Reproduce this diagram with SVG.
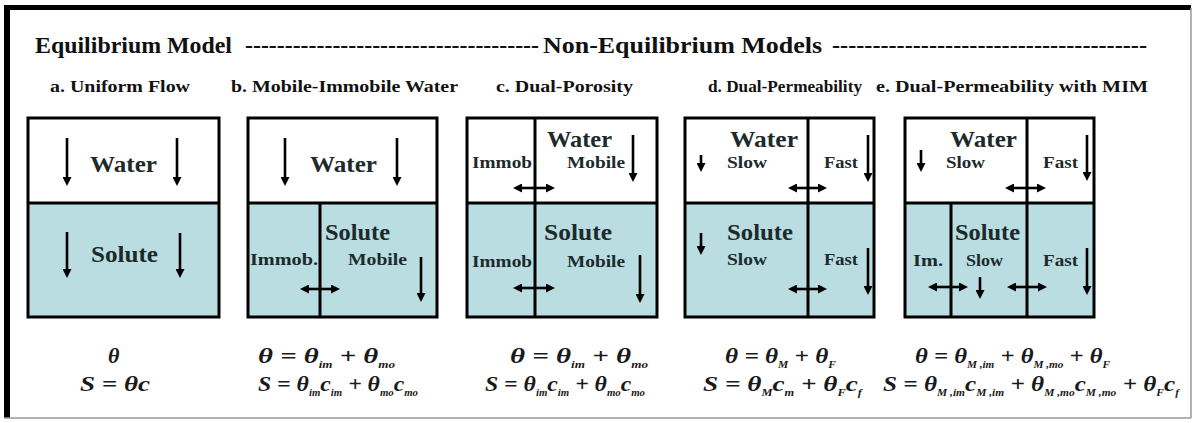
<svg xmlns="http://www.w3.org/2000/svg" width="1196" height="423" viewBox="0 0 1196 423">
<style>
.bg{fill:#ffffff}
.frameb{fill:#000}
.frameg{stroke:#9a9a9a;stroke-width:1.5;fill:none}
.box{fill:none;stroke:#000;stroke-width:3}
.blue{fill:#b9dde1}
.div{stroke:#000;stroke-width:3}
text{font-family:'Liberation Serif','Times New Roman',serif;font-weight:bold}
.hd{font-size:24px;fill:#111}
.sub{font-size:17px;fill:#111}
.big{font-size:24px;fill:#1c2a2c}
.sm{font-size:16px;fill:#1c2a2c}
.eq{font-style:italic;font-size:22px;fill:#1a1a1a}
.s{font-size:10px}
.ar{stroke:#000;stroke-width:2.6;fill:none;marker-end:url(#ah)}
.da{stroke:#000;stroke-width:2.6;fill:none;marker-end:url(#ah);marker-start:url(#ah)}
</style>
<defs>
<marker id="ah" markerUnits="userSpaceOnUse" viewBox="0 0 9 9" markerWidth="9" markerHeight="9" refX="1" refY="4.5" orient="auto-start-reverse">
<path d="M0,0 L9,4.5 L0,9 z" fill="#000"/>
</marker>
</defs>
<rect class="bg" x="0" y="0" width="1196" height="423"/>
<g id="frame">
<rect class="frameb" x="4" y="5" width="1187" height="5"/>
<rect class="frameb" x="4" y="5" width="6" height="413"/>
<line class="frameg" x1="1191" y1="8" x2="1191" y2="418"/>
<line class="frameg" x1="4" y1="418" x2="1191" y2="418"/>
</g>
<g id="header">
<text class="hd" x="35" y="53" textLength="197" lengthAdjust="spacingAndGlyphs">Equilibrium Model</text>
<text class="hd" x="245" y="53" textLength="294" lengthAdjust="spacingAndGlyphs">-------------------------------------</text>
<text class="hd" x="543" y="53" textLength="279" lengthAdjust="spacingAndGlyphs">Non-Equilibrium Models</text>
<text class="hd" x="832" y="53" textLength="315" lengthAdjust="spacingAndGlyphs">---------------------------------------</text>
</g>
<g id="subtitles">
<text class="sub" x="50" y="92" textLength="140" lengthAdjust="spacingAndGlyphs">a. Uniform Flow</text>
<text class="sub" x="231" y="92" textLength="227" lengthAdjust="spacingAndGlyphs">b. Mobile-Immobile Water</text>
<text class="sub" x="496" y="92" textLength="137" lengthAdjust="spacingAndGlyphs">c. Dual-Porosity</text>
<text class="sub" x="708" y="92" textLength="154" lengthAdjust="spacingAndGlyphs">d. Dual-Permeability</text>
<text class="sub" x="876" y="92" textLength="272" lengthAdjust="spacingAndGlyphs">e. Dual-Permeability with MIM</text>
</g>
<g id="panel-a">
<rect class="blue" x="28" y="203" width="191" height="114"/>
<rect class="box" x="28" y="118" width="191" height="199"/>
<line class="div" x1="28" y1="203" x2="219" y2="203"/>
<text class="big" x="90" y="172" textLength="67" lengthAdjust="spacingAndGlyphs">Water</text>
<text class="big" x="91" y="262" textLength="67" lengthAdjust="spacingAndGlyphs">Solute</text>
<text class="eq" x="108" y="363">θ</text>
<text class="eq" x="80" y="391" textLength="70" lengthAdjust="spacingAndGlyphs">S = θc</text>
</g>
<g id="panel-b">
<rect class="blue" x="248" y="203" width="189" height="114"/>
<rect class="box" x="248" y="118" width="189" height="199"/>
<line class="div" x1="248" y1="203" x2="437" y2="203"/>
<line class="div" x1="320" y1="203" x2="320" y2="317"/>
<text class="big" x="310" y="172" textLength="67" lengthAdjust="spacingAndGlyphs">Water</text>
<text class="big" x="325" y="240" textLength="65" lengthAdjust="spacingAndGlyphs">Solute</text>
<text class="sm" x="250" y="265" textLength="68" lengthAdjust="spacingAndGlyphs">Immob.</text>
<text class="sm" x="348" y="265" textLength="59" lengthAdjust="spacingAndGlyphs">Mobile</text>
<text class="eq" x="258" y="363" textLength="137" lengthAdjust="spacingAndGlyphs">θ = θ<tspan class="s" dy="5">im</tspan><tspan dy="-5"> + θ</tspan><tspan class="s" dy="5">mo</tspan></text>
<text class="eq" x="258" y="391" textLength="160" lengthAdjust="spacingAndGlyphs">S = θ<tspan class="s" dy="5">im</tspan><tspan dy="-5">c</tspan><tspan class="s" dy="5">im</tspan><tspan dy="-5"> + θ</tspan><tspan class="s" dy="5">mo</tspan><tspan dy="-5">c</tspan><tspan class="s" dy="5">mo</tspan></text>
</g>
<g id="panel-c">
<rect class="blue" x="467" y="203" width="190" height="114"/>
<rect class="box" x="467" y="118" width="190" height="199"/>
<line class="div" x1="467" y1="203" x2="657" y2="203"/>
<line class="div" x1="535" y1="118" x2="535" y2="317"/>
<text class="big" x="547" y="147" textLength="65" lengthAdjust="spacingAndGlyphs">Water</text>
<text class="sm" x="472" y="168" textLength="60" lengthAdjust="spacingAndGlyphs">Immob</text>
<text class="sm" x="567" y="168" textLength="58" lengthAdjust="spacingAndGlyphs">Mobile</text>
<text class="big" x="544" y="240" textLength="68" lengthAdjust="spacingAndGlyphs">Solute</text>
<text class="sm" x="472" y="267" textLength="60" lengthAdjust="spacingAndGlyphs">Immob</text>
<text class="sm" x="567" y="267" textLength="58" lengthAdjust="spacingAndGlyphs">Mobile</text>
<text class="eq" x="510" y="363" textLength="138" lengthAdjust="spacingAndGlyphs">θ = θ<tspan class="s" dy="5">im</tspan><tspan dy="-5"> + θ</tspan><tspan class="s" dy="5">mo</tspan></text>
<text class="eq" x="485" y="391" textLength="160" lengthAdjust="spacingAndGlyphs">S = θ<tspan class="s" dy="5">im</tspan><tspan dy="-5">c</tspan><tspan class="s" dy="5">im</tspan><tspan dy="-5"> + θ</tspan><tspan class="s" dy="5">mo</tspan><tspan dy="-5">c</tspan><tspan class="s" dy="5">mo</tspan></text>
</g>
<g id="panel-d">
<rect class="blue" x="685" y="203" width="189" height="114"/>
<rect class="box" x="685" y="118" width="189" height="199"/>
<line class="div" x1="685" y1="203" x2="874" y2="203"/>
<line class="div" x1="808" y1="118" x2="808" y2="317"/>
<text class="big" x="730" y="147" textLength="68" lengthAdjust="spacingAndGlyphs">Water</text>
<text class="sm" x="727" y="168" textLength="40" lengthAdjust="spacingAndGlyphs">Slow</text>
<text class="sm" x="824" y="168" textLength="34" lengthAdjust="spacingAndGlyphs">Fast</text>
<text class="big" x="727" y="240" textLength="66" lengthAdjust="spacingAndGlyphs">Solute</text>
<text class="sm" x="727" y="265" textLength="40" lengthAdjust="spacingAndGlyphs">Slow</text>
<text class="sm" x="824" y="265" textLength="34" lengthAdjust="spacingAndGlyphs">Fast</text>
<text class="eq" x="725" y="363" textLength="111" lengthAdjust="spacingAndGlyphs">θ = θ<tspan class="s" dy="5">M</tspan><tspan dy="-5"> + θ</tspan><tspan class="s" dy="5">F</tspan></text>
<text class="eq" x="703" y="391" textLength="159" lengthAdjust="spacingAndGlyphs">S = θ<tspan class="s" dy="5">M</tspan><tspan dy="-5">c</tspan><tspan class="s" dy="5">m</tspan><tspan dy="-5"> + θ</tspan><tspan class="s" dy="5">F</tspan><tspan dy="-5">c</tspan><tspan class="s" dy="5">f</tspan></text>
</g>
<g id="panel-e">
<rect class="blue" x="905" y="203" width="189" height="114"/>
<rect class="box" x="905" y="118" width="189" height="199"/>
<line class="div" x1="905" y1="203" x2="1094" y2="203"/>
<line class="div" x1="1027" y1="118" x2="1027" y2="317"/>
<line class="div" x1="951" y1="203" x2="951" y2="317"/>
<text class="big" x="950" y="147" textLength="67" lengthAdjust="spacingAndGlyphs">Water</text>
<text class="sm" x="946" y="168" textLength="39" lengthAdjust="spacingAndGlyphs">Slow</text>
<text class="sm" x="1043" y="168" textLength="35" lengthAdjust="spacingAndGlyphs">Fast</text>
<text class="big" x="955" y="240" textLength="65" lengthAdjust="spacingAndGlyphs">Solute</text>
<text class="sm" x="913" y="266" textLength="30" lengthAdjust="spacingAndGlyphs">Im.</text>
<text class="sm" x="966" y="266" textLength="37" lengthAdjust="spacingAndGlyphs">Slow</text>
<text class="sm" x="1043" y="266" textLength="35" lengthAdjust="spacingAndGlyphs">Fast</text>
<text class="eq" x="915" y="363" textLength="195" lengthAdjust="spacingAndGlyphs">θ = θ<tspan class="s" dy="5">M ,im</tspan><tspan dy="-5"> + θ</tspan><tspan class="s" dy="5">M ,mo</tspan><tspan dy="-5"> + θ</tspan><tspan class="s" dy="5">F</tspan></text>
<text class="eq" x="883" y="391" textLength="296" lengthAdjust="spacingAndGlyphs">S = θ<tspan class="s" dy="5">M ,im</tspan><tspan dy="-5">c</tspan><tspan class="s" dy="5">M ,im</tspan><tspan dy="-5"> + θ</tspan><tspan class="s" dy="5">M ,mo</tspan><tspan dy="-5">c</tspan><tspan class="s" dy="5">M ,mo</tspan><tspan dy="-5"> + θ</tspan><tspan class="s" dy="5">F</tspan><tspan dy="-5">c</tspan><tspan class="s" dy="5">f</tspan></text>
</g>
<g id="connectors">
<line class="ar" x1="67" y1="138" x2="67" y2="178"/>
<line class="ar" x1="177" y1="138" x2="177" y2="178"/>
<line class="ar" x1="67" y1="232" x2="67" y2="270"/>
<line class="ar" x1="180" y1="233" x2="180" y2="270"/>
<line class="ar" x1="285" y1="138" x2="285" y2="178"/>
<line class="ar" x1="397" y1="138" x2="397" y2="178"/>
<line class="ar" x1="421" y1="257" x2="421" y2="294"/>
<line class="da" x1="308" y1="289" x2="332" y2="289"/>
<line class="ar" x1="633" y1="135" x2="633" y2="174"/>
<line class="ar" x1="640" y1="255" x2="640" y2="295"/>
<line class="da" x1="521" y1="188" x2="547" y2="188"/>
<line class="da" x1="521" y1="288" x2="547" y2="288"/>
<line class="ar" x1="701" y1="155" x2="701" y2="164"/>
<line class="ar" x1="868" y1="135" x2="868" y2="174"/>
<line class="da" x1="796" y1="188" x2="819" y2="188"/>
<line class="ar" x1="701" y1="233" x2="701" y2="247"/>
<line class="ar" x1="868" y1="248" x2="868" y2="287"/>
<line class="da" x1="796" y1="289" x2="819" y2="289"/>
<line class="ar" x1="921" y1="150" x2="921" y2="164"/>
<line class="ar" x1="1087" y1="135" x2="1087" y2="173"/>
<line class="da" x1="1013" y1="188" x2="1038" y2="188"/>
<line class="ar" x1="1087" y1="248" x2="1087" y2="287"/>
<line class="da" x1="936" y1="287" x2="960" y2="287"/>
<line class="ar" x1="980" y1="277" x2="980" y2="291"/>
<line class="da" x1="1015" y1="287" x2="1039" y2="287"/>
</g>
</svg>
